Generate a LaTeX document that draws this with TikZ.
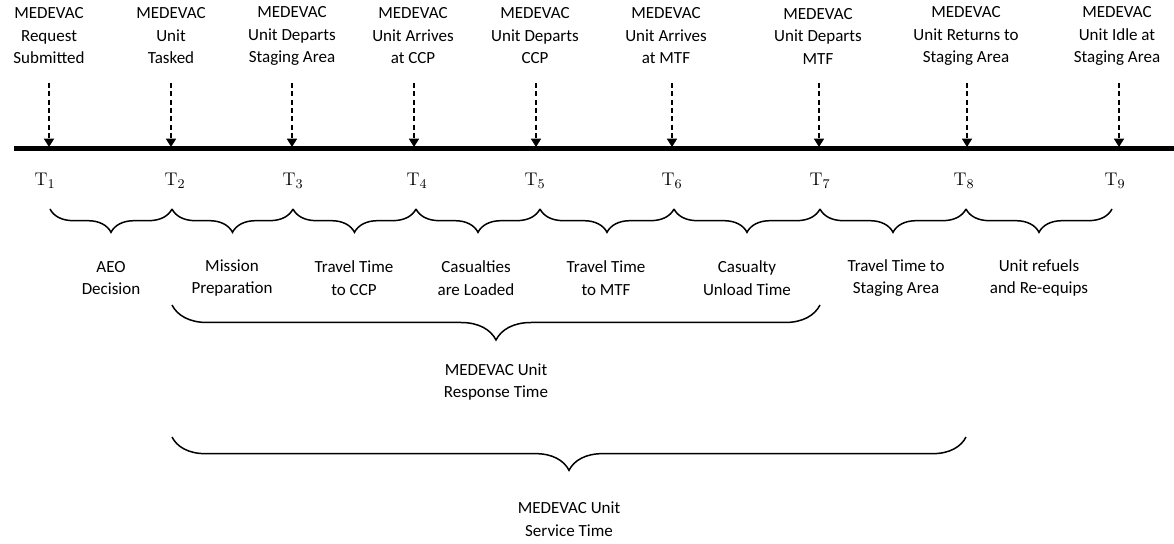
\documentclass[tikz,border=0pt]{standalone}
\usepackage{fontspec}
\setsansfont{Carlito}
\usetikzlibrary{arrows.meta,decorations.pathreplacing}

\tikzset{
  evtext/.style={font=\sffamily\fontsize{10.2}{13.5}\selectfont, align=center, inner sep=0pt},
  tlabel/.style={font=\fontsize{11}{13}\selectfont, inner sep=0pt},
  evarrow/.style={-{Triangle[length=5pt,width=6pt]}, line width=1pt, dash pattern=on 3pt off 2pt},
  timeline/.style={line width=3pt},
  phase/.style={decorate, decoration={brace, mirror, amplitude=#1}, line width=0.9pt},
}

\begin{document}
\begin{tikzpicture}[x=0.6pt, y=-0.6pt]
    \useasboundingbox (0,0) rectangle (1174,544);

    % event labels
    \node[evtext] (ev1) at (49,36)   {MEDEVAC\\Request\\Submitted};
    \node[evtext] (ev2) at (171,36)  {MEDEVAC\\Unit\\Tasked};
    \node[evtext] (ev3) at (292,36)  {MEDEVAC\\Unit Departs\\Staging Area};
    \node[evtext] (ev4) at (413,36)  {MEDEVAC\\Unit Arrives\\at CCP};
    \node[evtext] (ev5) at (535,36)  {MEDEVAC\\Unit Departs\\CCP};
    \node[evtext] (ev6) at (666,36)  {MEDEVAC\\Unit Arrives\\at MTF};
    \node[evtext] (ev7) at (818,36)  {MEDEVAC\\Unit Departs\\MTF};
    \node[evtext] (ev8) at (966,36)  {MEDEVAC\\Unit Returns to\\Staging Area};
    \node[evtext] (ev9) at (1117,36) {MEDEVAC\\Unit Idle at\\Staging Area};

    % time line
    \coordinate (lstart) at (14,149);
    \coordinate (lend) at (1174,149);
    \draw[timeline] (lstart) -- (lend);

    % arrows onto the time line
    \coordinate (a1) at (49,83);   \coordinate (t1) at (49,147);
    \coordinate (a2) at (171,83);  \coordinate (t2) at (171,147);
    \coordinate (a3) at (292,83);  \coordinate (t3) at (292,147);
    \coordinate (a4) at (414,83);  \coordinate (t4) at (414,147);
    \coordinate (a5) at (536,83);  \coordinate (t5) at (536,147);
    \coordinate (a6) at (672,83);  \coordinate (t6) at (672,147);
    \coordinate (a7) at (819,83);  \coordinate (t7) at (819,147);
    \coordinate (a8) at (967,83);  \coordinate (t8) at (967,147);
    \coordinate (a9) at (1119,83); \coordinate (t9) at (1119,147);

    \draw[evarrow] (a1) -- (t1);
    \draw[evarrow] (a2) -- (t2);
    \draw[evarrow] (a3) -- (t3);
    \draw[evarrow] (a4) -- (t4);
    \draw[evarrow] (a5) -- (t5);
    \draw[evarrow] (a6) -- (t6);
    \draw[evarrow] (a7) -- (t7);
    \draw[evarrow] (a8) -- (t8);
    \draw[evarrow] (a9) -- (t9);

    % time stamps
    \node[tlabel] (T1) at (45,181)   {T$_1$};
    \node[tlabel] (T2) at (175,181)  {T$_2$};
    \node[tlabel] (T3) at (293,181)  {T$_3$};
    \node[tlabel] (T4) at (417,181)  {T$_4$};
    \node[tlabel] (T5) at (535,181)  {T$_5$};
    \node[tlabel] (T6) at (672,181)  {T$_6$};
    \node[tlabel] (T7) at (820,181)  {T$_7$};
    \node[tlabel] (T8) at (964,181)  {T$_8$};
    \node[tlabel] (T9) at (1115,181) {T$_9$};

    % phase braces
    \coordinate (p0) at (50,209);
    \coordinate (p1) at (172,209);
    \coordinate (p2) at (293,209);
    \coordinate (p3) at (416,209);
    \coordinate (p4) at (540,209);
    \coordinate (p5) at (674,209);
    \coordinate (p6) at (820,209);
    \coordinate (p7) at (966,209);
    \coordinate (p8) at (1112,209);

    \draw[phase=14pt] (p0) -- (p1);
    \draw[phase=14pt] (p1) -- (p2);
    \draw[phase=14pt] (p2) -- (p3);
    \draw[phase=14pt] (p3) -- (p4);
    \draw[phase=14pt] (p4) -- (p5);
    \draw[phase=14pt] (p5) -- (p6);
    \draw[phase=14pt] (p6) -- (p7);
    \draw[phase=14pt] (p7) -- (p8);

    \node[evtext] (aeo)    at (111,278)  {AEO\\Decision};
    \node[evtext] (prep)   at (232,278)  {Mission\\Preparation};
    \node[evtext] (toccp)  at (354,278)  {Travel Time\\to CCP};
    \node[evtext] (load)   at (476,278)  {Casualties\\are Loaded};
    \node[evtext] (tomtf)  at (606,278)  {Travel Time\\to MTF};
    \node[evtext] (unload) at (747,278)  {Casualty\\Unload Time};
    \node[evtext] (tostag) at (896,278)  {Travel Time to\\Staging Area};
    \node[evtext] (refuel) at (1039,278) {Unit refuels\\and Re-equips};

    % response and service time
    \coordinate (r0) at (172,305);
    \coordinate (r1) at (820,305);
    \draw[phase=21pt] (r0) -- (r1);
    \node[evtext] (resp) at (496,382) {MEDEVAC Unit\\Response Time};

    \coordinate (s0) at (172,437);
    \coordinate (s1) at (966,437);
    \draw[phase=20pt] (s0) -- (s1);
    \node[evtext] (serv) at (569,519) {MEDEVAC Unit\\Service Time};
\end{tikzpicture}
\end{document}
